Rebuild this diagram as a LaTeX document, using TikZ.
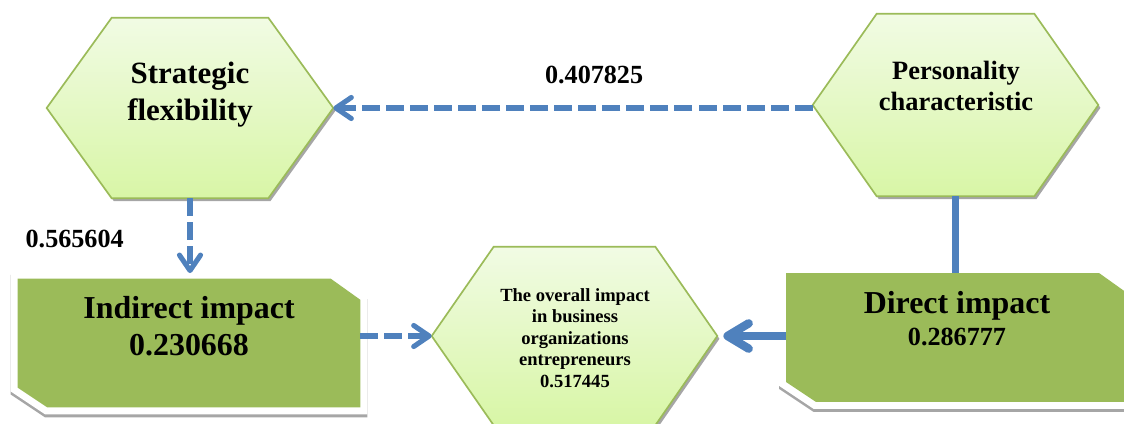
\documentclass[tikz,border=0pt]{standalone}
\usepackage{fontspec}
\setmainfont{Liberation Serif}
\usetikzlibrary{arrows.meta}
\definecolor{linkblue}{HTML}{4F81BD}
\definecolor{boxgreen}{HTML}{9BBB59}
\definecolor{hextop}{HTML}{F1FBE4}
\definecolor{hexbottom}{HTML}{D8F6A6}
\definecolor{shadowgray}{HTML}{A6A6A6}
\tikzstyle{hexagon} = [rectangle, inner sep=0pt]
\tikzstyle{impact} = [rectangle, minimum width=8.55cm, minimum height=3.2cm, inner sep=0pt]
\tikzstyle{hexface} = [top color=hextop, bottom color=hexbottom, draw=boxgreen, line width=1.2pt, line join=miter]
\tikzstyle{hexshadow} = [fill=shadowgray]
\tikzstyle{boxrim} = [draw=white, line width=10pt, line join=miter]
\tikzstyle{boxshadow} = [draw=shadowgray, fill=shadowgray, line width=10pt, line join=miter]
\tikzstyle{boxface} = [fill=boxgreen]
\tikzstyle{title} = [align=center, text=black]
\tikzstyle{weight} = [text=black, font=\fontsize{18.6}{22}\selectfont\bfseries]
\tikzstyle{dasharrow} = [linkblue, line width=3.6pt, dash pattern=on 12.8pt off 4.3pt, -{Straight Barb[length=11pt, width=15pt, round]}]
\tikzstyle{solidarrow} = [linkblue, line width=6pt, -{Straight Barb[length=15pt, width=18pt, round]}]
\tikzstyle{solidline} = [linkblue, line width=5.6pt]
\newcommand{\hexagonfill}[2]{%
  \fill[hexshadow, transform canvas={shift={(1.5pt,-2pt)}}] (#1.west) -- ([xshift=#2]#1.north west) -- ([xshift=-#2]#1.north east) -- (#1.east) -- ([xshift=-#2]#1.south east) -- ([xshift=#2]#1.south west) -- cycle;
  \shadedraw[hexface] (#1.west) -- ([xshift=#2]#1.north west) -- ([xshift=-#2]#1.north east) -- (#1.east) -- ([xshift=-#2]#1.south east) -- ([xshift=#2]#1.south west) -- cycle;}
\newcommand{\snipbox}[1]{%
  \filldraw[boxshadow, transform canvas={shift={(0pt,-2.2pt)}}] (#1.north west) -- ([xshift=-21pt]#1.north east) -- ([yshift=-15pt]#1.north east) -- (#1.south east) -- ([xshift=21pt]#1.south west) -- ([yshift=14pt]#1.south west) -- cycle;
  \draw[boxrim] (#1.north west) -- ([xshift=-21pt]#1.north east) -- ([yshift=-15pt]#1.north east) -- (#1.south east) -- ([xshift=21pt]#1.south west) -- ([yshift=14pt]#1.south west) -- cycle;
  \fill[boxface] (#1.north west) -- ([xshift=-21pt]#1.north east) -- ([yshift=-15pt]#1.north east) -- (#1.south east) -- ([xshift=21pt]#1.south west) -- ([yshift=14pt]#1.south west) -- cycle;}
\begin{document}
\begin{tikzpicture}[x=0.025cm, y=-0.025cm]
  \useasboundingbox (0,0) rectangle (1124,423);
  \node (strat) [hexagon, minimum width=7.15cm, minimum height=4.5cm] at (190,108) {};
  \node (pers) [hexagon, minimum width=7.125cm, minimum height=4.55cm] at (955.5,105) {};
  \node (overall) [hexagon, minimum width=7.125cm, minimum height=4.45cm] at (574.5,336) {};
  \node (indirect) [impact] at (189,343) {};
  \node (direct) [impact] at (957.5,337.5) {};

  \hexagonfill{strat}{1.625cm}
  \hexagonfill{pers}{1.6cm}
  \hexagonfill{overall}{1.55cm}
  \snipbox{indirect}
  \snipbox{direct}

  \node (strattext) [title, font=\fontsize{22}{26.3}\selectfont\bfseries] at (190,95) {Strategic\\flexibility};
  \node (perstext) [title, font=\fontsize{18.8}{22}\selectfont\bfseries] at (956,86) {Personality\\characteristic};
  \node (overalltext) [title, font=\fontsize{13.2}{15.4}\selectfont\bfseries] at (575,338) {The overall impact\\in business\\organizations\\entrepreneurs\\0.517445};
  \node (indirecttext) [title, font=\fontsize{22.7}{26.3}\selectfont\bfseries] at (189,326) {Indirect impact\\0.230668};
  \node (directtext) [title, font=\fontsize{22.7}{26.3}\selectfont\bfseries] at (957,319) {Direct impact\\[-3.5pt]{\fontsize{18.6}{22}\selectfont 0.286777}};

  \draw[dasharrow] (pers.west |- strat.east) -- (strat.east) node[weight, pos=0.456, above=12pt] {0.407825};
  \draw[dasharrow, shorten >=4pt] (strat.south) -- (strat.south |- indirect.north) node[weight, midway, left=42pt] {0.565604};
  \draw[dasharrow] (indirect.east |- overall.west) -- (overall.west);
  \draw[solidarrow, shorten >=4.3pt] (direct.west |- overall.east) -- (overall.east);
  \draw[solidline] (pers.south) -- (pers.south |- direct.north);
\end{tikzpicture}
\end{document}
